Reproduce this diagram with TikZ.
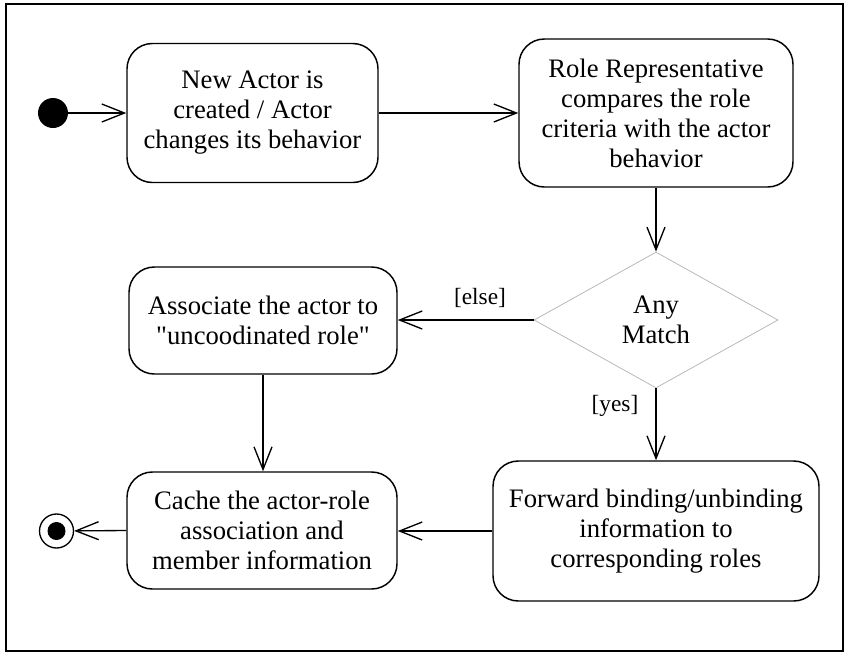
\documentclass[tikz,border=0pt]{standalone}
\usepackage{fontspec}
\setmainfont{Liberation Serif}[Ligatures=TeXOff]
\usetikzlibrary{arrows.meta,shapes.geometric}

\tikzset{
  activity/.style={draw, line width=1.1pt, rounded corners=19pt, align=center,
    inner sep=0pt, font=\fontsize{20}{22.5}\selectfont},
  decision/.style={diamond, draw=black!28, line width=0.6pt, align=center,
    inner sep=0pt, font=\fontsize{20}{22.5}\selectfont},
  guard/.style={font=\fontsize{17.5}{20}\selectfont, inner sep=0pt},
  flow/.style={line width=1pt, -{Straight Barb[length=17pt,width=13.5pt,line width=1pt]}},
  startnode/.style={circle, fill=black, minimum size=22.5pt, inner sep=0pt},
  endring/.style={circle, draw, line width=1pt, minimum size=25.5pt, inner sep=0pt},
  enddot/.style={circle, fill=black, minimum size=13.5pt, inner sep=0pt},
}

\begin{document}
\begin{tikzpicture}[x=0.75pt, y=-0.75pt]
  \useasboundingbox (0,0) rectangle (849,654);
  % outer frame
  \draw[line width=1.5pt] (6,4) rectangle (843,651);

  % start / end markers
  \node[startnode] (init) at (53,113) {};
  \node[endring] (final) at (56.5,531) {};
  \node[enddot] (finaldot) at (final.center) {};

  % activities
  \node[activity, minimum width=188.25pt, minimum height=104.25pt] (new) at (252.5,113)
    {New Actor is\\created / Actor\\changes its behavior};
  \node[activity, minimum width=205.5pt, minimum height=111pt] (rep) at (656,113)
    {Role Representative\\compares the role\\criteria with the actor\\behavior};
  \node[decision, minimum width=183pt, minimum height=102pt] (match) at (656,320)
    {Any\\Match};
  \node[activity, minimum width=201pt, minimum height=80.25pt] (assoc) at (263,320.5)
    {Associate the actor to\\"uncoodinated role"};
  \node[activity, minimum width=202.5pt, minimum height=87.75pt] (cache) at (262,530.5)
    {Cache the actor-role\\association and\\member information};
  \node[activity, minimum width=244.5pt, minimum height=105pt] (fwd) at (656,531)
    {Forward binding/unbinding\\information to\\corresponding roles};

  % guard labels
  \node[guard] (elselbl) at (480,298) {[else]};
  \node[guard] (yeslbl) at (615,406) {[yes]};

  % control flows
  \draw[flow] (init) -- (new);
  \draw[flow] (new) -- (rep);
  \draw[flow] (rep) -- (match);
  \draw[flow] (match) -- (match -| assoc.east);
  \draw[flow] (match) -- (fwd);
  \draw[flow] (assoc) -- (assoc |- cache.north);
  \draw[flow] (fwd.west) -- (fwd.west -| cache.east);
  \draw[flow] (cache.west) -- (final);
\end{tikzpicture}
\end{document}
